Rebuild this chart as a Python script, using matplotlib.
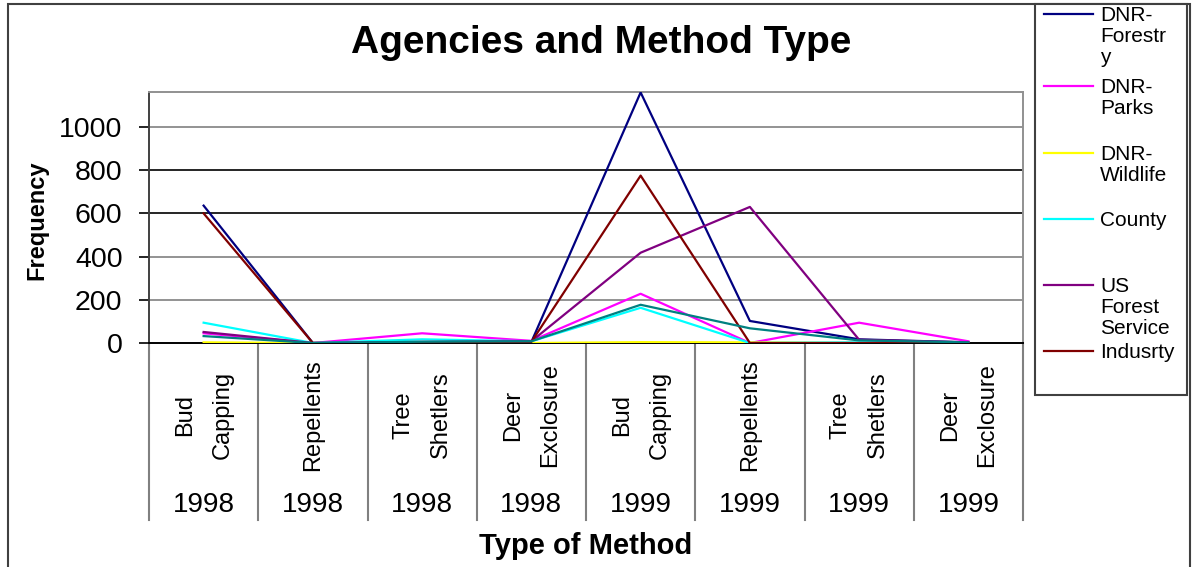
import matplotlib
matplotlib.use('Agg')
import matplotlib.pyplot as plt
import matplotlib.transforms as mtransforms
from matplotlib.lines import Line2D
from matplotlib.patches import Rectangle

# Arial-like font (Excel export look)
plt.rcParams['font.family'] = ['Liberation Sans', 'DejaVu Sans']

# x categories: method, year
methods = ['Bud\nCapping', 'Repellents', 'Tree\nShetlers', 'Deer\nExclosure',
           'Bud\nCapping', 'Repellents', 'Tree\nShetlers', 'Deer\nExclosure']
years = ['1998', '1998', '1998', '1998', '1999', '1999', '1999', '1999']

# frequencies
dnr_forestry = [636, 0, 2, 5, 1160, 102, 17, 3]
dnr_parks = [45, 0, 45, 10, 228, 0, 94, 8]
dnr_wildlife = [3, 0, 0, 0, 4, 3, 0, 0]
county = [94, 0, 17, 8, 163, 0, 3, 0]
us_forest_service = [51, 0, 5, 8, 418, 630, 15, 3]
industry = [600, 0, 0, 5, 775, 0, 0, 0]
other = [32, 0, 6, 8, 177, 68, 12, 3]  # 7th series, its legend entry is cut off

series_values = [dnr_forestry, dnr_parks, dnr_wildlife, county,
                 us_forest_service, industry, other]
series_colors = ['#000080', '#FF00FF', '#FFFF00', '#00FFFF',
                 '#800080', '#800000', '#008080']
legend_labels = ['DNR-\nForestr\ny', 'DNR-\nParks', 'DNR-\nWildlife', 'County',
                 'US\nForest\nService', 'Indusrty']

W, H = 1192, 567
fig = plt.figure(figsize=(W / 100, H / 100), dpi=100)

# chart area border
fig.add_artist(Rectangle((8 / W, -0.05), (1190 - 8) / W, 1.05 - 4 / H,
                         transform=fig.transFigure, fill=False,
                         ec='#404040', lw=1.5))

ax = fig.add_axes([149 / W, 1 - 343 / H, (1023 - 149) / W, (343 - 92) / H])

x = list(range(len(methods)))
for vals, col in zip(series_values, series_colors):
    ax.plot(x, vals, color=col, lw=1.6, zorder=3)

ax.set_xlim(-0.5, len(methods) - 0.5)
ax.set_ylim(0, 1162)
ax.set_yticks([0, 200, 400, 600, 800, 1000])
ax.set_xticks([])
ax.tick_params(axis='y', length=7, width=1.2, pad=12, labelsize=20.5)

# gridlines (some render black, some gray in the original)
grid_cols = {200: '#808080', 400: '#808080', 600: 'black', 800: 'black', 1000: '#808080'}
for val, c in grid_cols.items():
    ax.axhline(val, color=c, lw=1.2, zorder=1)
for tick, val in zip(ax.yaxis.get_major_ticks(), [0, 200, 400, 600, 800, 1000]):
    tick.tick1line.set_color(grid_cols.get(val, 'black'))

ax.spines['left'].set_color('#404040')
ax.spines['bottom'].set_color('black')
ax.spines['top'].set_color('#909090')
ax.spines['right'].set_color('#909090')
for s in ax.spines.values():
    s.set_linewidth(1.4)

# category table under the axis
trans = mtransforms.blended_transform_factory(ax.transData, ax.transAxes)
for k in range(len(methods) + 1):
    ax.plot([k - 0.5, k - 0.5], [0, -0.705], transform=trans,
            color='#808080', lw=1.5, clip_on=False)
for i, (m, yr) in enumerate(zip(methods, years)):
    ax.text(i, -0.287, m, transform=trans, rotation=90, ha='center',
            va='center', multialignment='center', fontsize=17, linespacing=1.9)
    ax.text(i, -0.645, yr, transform=trans, ha='center', va='center', fontsize=20)

fig.text(601 / W, 1 - 43 / H, 'Agencies and Method Type', fontsize=28,
         weight='bold', ha='center', va='center')
fig.text(37 / W, 1 - 220 / H, 'Frequency', rotation=90, fontsize=17,
         weight='bold', ha='center', va='center')
fig.text(586 / W, 1 - 546 / H, 'Type of Method', fontsize=21,
         weight='bold', ha='center', va='center')

# legend drawn by hand (labels wrap like the original)
fig.add_artist(Rectangle((1035 / W, 1 - 395 / H), (1187 - 1035) / W, (395 - 4) / H,
                         transform=fig.transFigure, fc='white', ec='#404040',
                         lw=1.5, zorder=5))
legend_y = [14, 86, 153, 219, 285, 351]
for lab, col, ly in zip(legend_labels, series_colors, legend_y):
    fig.add_artist(Line2D([1044 / W, 1093 / W], [1 - ly / H, 1 - ly / H],
                          transform=fig.transFigure, color=col, lw=1.6, zorder=6))
    fig.text(1100 / W, 1 - (ly - 8) / H, lab, fontsize=15, ha='left',
             va='top', linespacing=1.12, zorder=7)

fig.savefig('out.png', dpi=100)
